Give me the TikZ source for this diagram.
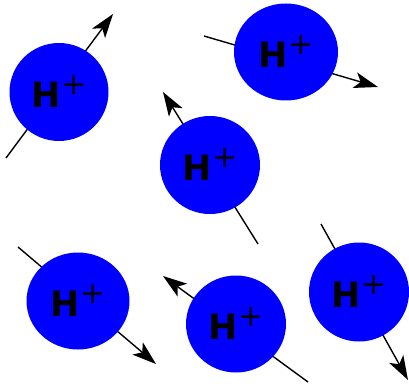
\documentclass[tikz,border=0pt]{standalone}
\usepackage{fontspec}
\setmainfont{DejaVu Sans}
\usetikzlibrary{arrows.meta,shapes.geometric}
\newcommand{\hplus}{{\bfseries\fontsize{35}{35}\selectfont H}\raisebox{13pt}{\fontsize{30}{30}\selectfont +}}
\tikzset{
  ion/.style={ellipse, fill={rgb,255:red,0;green,0;blue,255}, draw=none, inner sep=0pt},
  ionlabel/.style={inner sep=0pt, text=black},
  motion/.style={line width=1.4pt, -{Stealth[length=24pt,width=16pt,inset=6pt]}}
}
\begin{document}
\begin{tikzpicture}[x=1pt,y=-1pt]
\useasboundingbox (0,0) rectangle (409,387);
% tails and tips
\coordinate (t1) at (6,158);   \coordinate (h1) at (113,14);
\coordinate (t2) at (204,36);  \coordinate (h2) at (378,87);
\coordinate (t3) at (258,244); \coordinate (h3) at (163,92);
\coordinate (t4) at (18,247);  \coordinate (h4) at (156,364);
\coordinate (t5) at (308,382); \coordinate (h5) at (163,276);
\coordinate (t6) at (321,224); \coordinate (h6) at (408,380);
\foreach \i in {1,...,6} \draw[motion] (t\i) -- (h\i);
% ions
\node[ion, minimum width=99pt, minimum height=98pt] (p1) at (59,92) {};
\node[ion, minimum width=104pt, minimum height=97pt] (p2) at (286,52) {};
\node[ion, minimum width=100pt, minimum height=98pt] (p3) at (210,165) {};
\node[ion, minimum width=103pt, minimum height=97pt] (p4) at (78,301) {};
\node[ion, minimum width=100pt, minimum height=97pt] (p5) at (236,324) {};
\node[ion, minimum width=100pt, minimum height=99pt] (p6) at (359,292) {};
\foreach \i in {1,...,6} \node[ionlabel] (l\i) at (p\i) {\hplus};
\end{tikzpicture}
\end{document}
